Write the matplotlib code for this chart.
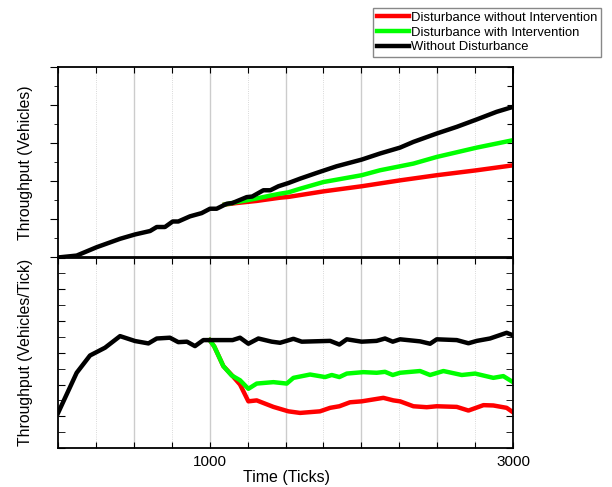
"""

Throughput with / without disturbance and intervention

"""

import matplotlib
matplotlib.use('Agg')
import matplotlib.pyplot as plt
from matplotlib.ticker import MultipleLocator, FixedLocator, FixedFormatter


# cumulative throughput (top panel)
cum_nodist_x = [0, 123, 255, 409, 508, 607, 651, 705, 756, 793, 870, 947, 1002,
                1046, 1112, 1150, 1244, 1280, 1354, 1400, 1453, 1519, 1596,
                1705, 1837, 2002, 2123, 2255, 2343, 2497, 2629, 2761, 2892, 3000]
cum_nodist_y = [0, 0.1, 0.54, 0.98, 1.21, 1.39, 1.6, 1.6, 1.89, 1.89, 2.16,
                2.33, 2.56, 2.56, 2.82, 2.86, 3.17, 3.2, 3.53, 3.53, 3.74, 3.91,
                4.14, 4.44, 4.79, 5.14, 5.46, 5.77, 6.07, 6.51, 6.86, 7.25,
                7.65, 7.91]

cum_int_x = [1100, 1178, 1244, 1310, 1400, 1464, 1519, 1596, 1749, 2002, 2123,
             2343, 2497, 2761, 3000]
cum_int_y = [2.78, 2.91, 3.0, 3.1, 3.25, 3.35, 3.42, 3.61, 3.96, 4.32, 4.58,
             4.93, 5.28, 5.77, 6.16]

cum_noint_x = [1100, 1178, 1310, 1464, 1519, 1749, 2002, 2255, 2497, 2761, 3000]
cum_noint_y = [2.78, 2.86, 2.97, 3.14, 3.18, 3.47, 3.74, 4.05, 4.32, 4.58, 4.84]

# throughput rate (bottom panel)
rate_nodist_x = [0, 123, 211, 310, 409, 508, 596, 651, 738, 793, 850, 903, 958,
                 1000, 1151, 1200, 1255, 1321, 1409, 1464, 1552, 1607, 1794,
                 1855, 1904, 2002, 2100, 2156, 2207, 2255, 2387, 2453, 2497,
                 2629, 2706, 2761, 2848, 2958, 3000]
rate_nodist_y = [2.2, 4.74, 5.83, 6.32, 7.05, 6.74, 6.59, 6.9, 6.95, 6.67, 6.7,
                 6.42, 6.8, 6.8, 6.8, 6.95, 6.57, 6.9, 6.7, 6.63, 6.88, 6.7,
                 6.75, 6.52, 6.85, 6.7, 6.75, 6.9, 6.7, 6.85, 6.72, 6.57, 6.85,
                 6.8, 6.6, 6.75, 6.9, 7.26, 7.1]

rate_int_x = [1000, 1030, 1090, 1145, 1200, 1255, 1310, 1420, 1508, 1552, 1662,
              1761, 1805, 1855, 1904, 2013, 2101, 2156, 2207, 2255, 2387, 2453,
              2541, 2662, 2750, 2870, 2936, 3000]
rate_int_y = [6.8, 6.4, 5.16, 4.57, 4.27, 3.73, 4.06, 4.15, 4.06, 4.42, 4.63,
              4.47, 4.6, 4.47, 4.69, 4.78, 4.74, 4.8, 4.6, 4.74, 4.85, 4.6,
              4.85, 4.6, 4.69, 4.42, 4.53, 4.15]

rate_noint_x = [1000, 1030, 1090, 1145, 1200, 1255, 1310, 1420, 1519, 1596,
                1727, 1794, 1855, 1925, 2002, 2145, 2211, 2255, 2343, 2431,
                2497, 2629, 2706, 2805, 2870, 2958, 3000]
rate_noint_y = [6.8, 6.4, 5.16, 4.6, 4.0, 2.94, 3.0, 2.59, 2.31, 2.21, 2.31,
                2.53, 2.63, 2.88, 2.94, 3.16, 3.0, 2.94, 2.63, 2.57, 2.63, 2.59,
                2.36, 2.7, 2.68, 2.53, 2.25]

labels = ['Disturbance without Intervention', 'Disturbance with Intervention',
          'Without Disturbance']
colors = ['#ff0000', '#00ff00', '#000000']
xlabels = {1000: '1000', 3000: '3000'}


plt.rcParams['font.family'] = ['Liberation Sans', 'DejaVu Sans']

fig = plt.figure(figsize=(6.12, 4.87), dpi=100)
ax1 = fig.add_axes([0.0948, 0.4713, 0.7435, 0.391])
ax2 = fig.add_axes([0.0948, 0.0801, 0.7435, 0.391])

lw = 3.2
ax1.plot(cum_noint_x, cum_noint_y, color=colors[0], lw=lw, label=labels[0])
ax1.plot(cum_int_x, cum_int_y, color=colors[1], lw=lw, label=labels[1])
ax1.plot(cum_nodist_x, cum_nodist_y, color=colors[2], lw=lw, label=labels[2])

ax2.plot(rate_noint_x, rate_noint_y, color=colors[0], lw=lw)
ax2.plot(rate_int_x, rate_int_y, color=colors[1], lw=lw)
ax2.plot(rate_nodist_x, rate_nodist_y, color=colors[2], lw=lw)

ax1.set_ylim(0, 10)
ax2.set_ylim(0, 12)

for ax in (ax1, ax2):
    ax.set_xlim(0, 3000)
    for s in ax.spines.values():
        s.set_linewidth(1.3)
    # vertical grid: solid at 500s, dotted in between
    for gx in range(250, 3000, 250):
        if gx % 500 == 0:
            ax.axvline(gx, color='#cccccc', lw=1.0, zorder=0)
        else:
            ax.axvline(gx, color='#cccccc', lw=0.6, ls=':', zorder=0)
    ax.xaxis.set_major_locator(MultipleLocator(250))
    ax.yaxis.set_major_locator(MultipleLocator(2))
    ax.yaxis.set_minor_locator(MultipleLocator(1))
    ax.set_yticklabels([])

ax1.tick_params(axis='x', which='both', direction='in', top=True, bottom=False,
                labelbottom=False, length=4)
ax1.tick_params(axis='y', which='major', direction='out', length=6,
                right=False, left=True)
ax1.tick_params(axis='y', which='minor', direction='out', length=3,
                right=False, left=True)
ax1r = ax1.secondary_yaxis('right')
ax1r.yaxis.set_major_locator(MultipleLocator(1))
ax1r.tick_params(direction='in', length=4, labelright=False)
ax1r.spines['right'].set_linewidth(1.3)

ax2.tick_params(axis='y', which='both', direction='in', length=5, left=True,
                right=True)
ax2.tick_params(axis='x', direction='in', length=4, top=True, bottom=True,
                labelsize=11, pad=5)
ticks = [x for x in range(0, 3001, 250)]
ax2.xaxis.set_major_locator(FixedLocator(ticks))
ax2.xaxis.set_major_formatter(FixedFormatter([xlabels.get(t, '') for t in ticks]))

ax1.set_ylabel('Throughput (Vehicles)', fontsize=11.3)
ax1.yaxis.set_label_coords(-0.055, 0.5)
ax2.set_ylabel('Throughput (Vehicles/Tick)', fontsize=11.3)
ax2.yaxis.set_label_coords(-0.055, 0.5)
ax2.set_xlabel('Time (Ticks)', fontsize=11.5)
ax2.xaxis.set_label_coords(0.503, -0.115)

leg = fig.legend(loc='upper right', bbox_to_anchor=(0.982, 0.984),
                 fontsize=9.4, fancybox=False, edgecolor='#888888',
                 handlelength=2.5, handletextpad=0.1, labelspacing=0.2,
                 borderpad=0.3, borderaxespad=0, framealpha=1)
leg.get_frame().set_linewidth(1.0)

plt.savefig('out.png', dpi=100)
